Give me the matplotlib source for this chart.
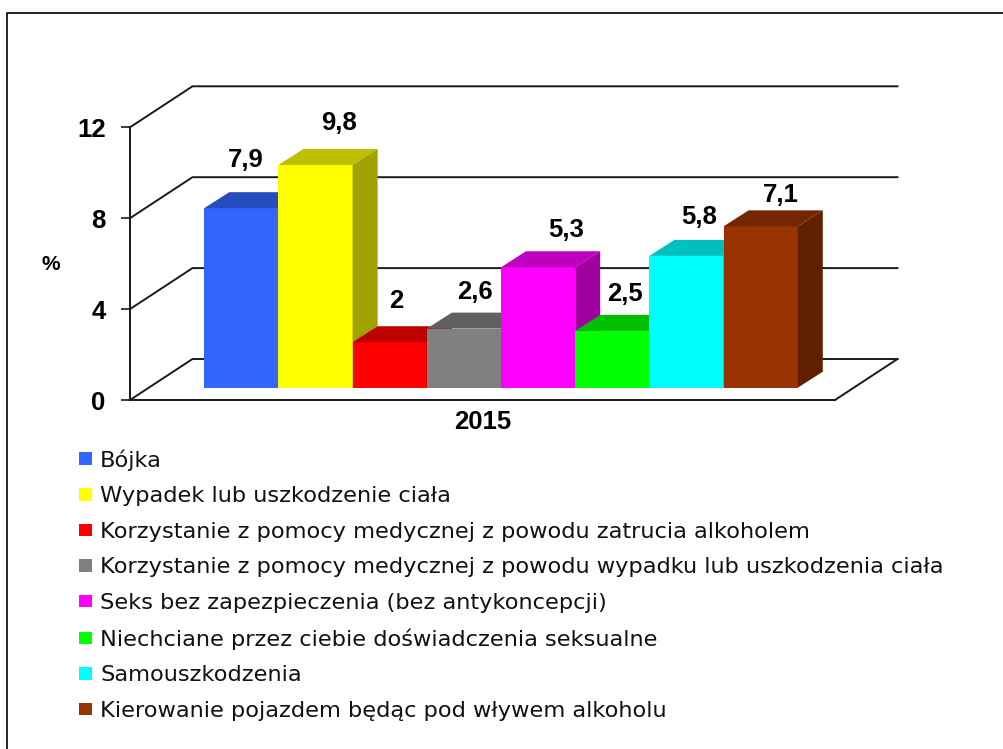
import matplotlib
matplotlib.use("Agg")
import matplotlib.pyplot as plt
from matplotlib.patches import Patch, Polygon
from matplotlib.colors import to_rgb

plt.rcParams['font.family'] = ['Liberation Sans', 'DejaVu Sans']

# ---- data ----
categories = [
    "Bójka",
    "Wypadek lub uszkodzenie ciała",
    "Korzystanie z pomocy medycznej z powodu zatrucia alkoholem",
    "Korzystanie z pomocy medycznej z powodu wypadku lub uszkodzenia ciała",
    "Seks bez zapezpieczenia (bez antykoncepcji)",
    "Niechciane przez ciebie doświadczenia seksualne",
    "Samouszkodzenia",
    "Kierowanie pojazdem będąc pod wływem alkoholu",
]
values = [7.9, 9.8, 2, 2.6, 5.3, 2.5, 5.8, 7.1]
value_labels = ["7,9", "9,8", "2", "2,6", "5,3", "2,5", "5,8", "7,1"]
colors = ["#3366FF", "#FFFF00", "#FF0000", "#808080", "#FF00FF", "#00FF00", "#00FFFF", "#993300"]
y_ticks = [0, 4, 8, 12]
group_label = "2015"

# ---- style / layout (pixels of the 1004x749 canvas) ----
W, H = 1004, 749
AX_L, AX_R, AX_T, AX_B = 130, 835, 127.3, 400
BAR_W_PX = 74.2
label_offsets = [(4, 48), (23, 42), (6.5, 41), (11.5, 37), (28, 37), (13, 37), (13, 39), (20, 31)]

fig = plt.figure(figsize=(W / 100, H / 100), dpi=100, facecolor="white")
ax = fig.add_axes([AX_L / W, 1 - AX_B / H, (AX_R - AX_L) / W, (AX_B - AX_T) / H])
ax.set_xlim(0, (AX_R - AX_L) / BAR_W_PX)
ax.set_ylim(0, 12)
ax.patch.set_visible(False)

ux = (AX_R - AX_L) / (ax.get_xlim()[1])   # px per x unit
uy = (AX_B - AX_T) / 12                   # px per y unit


def dxy(px, py):
    return px / ux, py / uy


# depth of the walls and of the bars
WALL_DX, WALL_DY = dxy(62.5, 41)
BAR_DX, BAR_DY = dxy(25, 16)
BAR_Y0 = dxy(0, 12.3)[1]
xmax = ax.get_xlim()[1]

# back wall, side wall, floor
line_kw = dict(color="#1a1a1a", lw=1.4, clip_on=False, zorder=1, solid_capstyle="projecting")
for t in y_ticks:
    ax.plot([0, WALL_DX, xmax + WALL_DX], [t, t + WALL_DY, t + WALL_DY], **line_kw)
ax.plot([xmax, xmax + WALL_DX], [0, WALL_DY], **line_kw)

# bars
for i, (v, c) in enumerate(zip(values, colors)):
    x0, x1 = i + 1, i + 2
    y0, y1 = BAR_Y0, BAR_Y0 + v
    rgb = to_rgb(c)
    top = tuple(k * 0.75 for k in rgb)
    side = tuple(k * 0.63 for k in rgb)
    ax.bar(x0, v, width=1, bottom=y0, align="edge", color=c, linewidth=0, zorder=3 + i, clip_on=False)
    ax.add_patch(Polygon([(x0, y1), (x0 + BAR_DX, y1 + BAR_DY), (x1 + BAR_DX, y1 + BAR_DY), (x1, y1)],
                         closed=True, facecolor=top, edgecolor="none", zorder=3 + i, clip_on=False))
    ax.add_patch(Polygon([(x1, y0), (x1 + BAR_DX, y0 + BAR_DY), (x1 + BAR_DX, y1 + BAR_DY), (x1, y1)],
                         closed=True, facecolor=side, edgecolor="none", zorder=3 + i, clip_on=False))
    ax.annotate(value_labels[i], xy=((x0 + x1) / 2, y1), xytext=label_offsets[i],
                textcoords="offset pixels", ha="center", va="center",
                fontsize=18.5, fontweight="bold", color="black", zorder=20, annotation_clip=False)

# axes
for s in ("top", "right"):
    ax.spines[s].set_visible(False)
for s in ("left", "bottom"):
    ax.spines[s].set_color("#1a1a1a")
    ax.spines[s].set_linewidth(1.4)
    ax.spines[s].set_zorder(2)
ax.set_yticks(y_ticks)
ax.set_yticklabels([str(t) for t in y_ticks], fontsize=18.5, fontweight="bold")
ax.tick_params(axis="y", length=6.5, width=1.2, color="#1a1a1a", pad=11)
ax.set_xticks([xmax / 2])
ax.set_xticklabels([group_label], fontsize=18.5, fontweight="bold")
ax.tick_params(axis="x", length=0, pad=7)
fig.text(51 / W, 1 - 264 / H, "%", ha="center", va="center", fontsize=15, fontweight="bold")

# legend (DejaVu Sans approximates the horizontally stretched Arial of the reference)
FS = 16.2
handles = [Patch(facecolor=c, edgecolor="none") for c in colors]
fig.legend(handles, categories, loc="upper left", bbox_to_anchor=(73 / W, 1 - 443 / H),
           frameon=False, handlelength=0.574, handleheight=0.49,
           handletextpad=0.35, labelspacing=0.69, borderpad=0.28, borderaxespad=0,
           labelcolor="#111111", prop=dict(family="DejaVu Sans", size=FS))

# outer frame
fig.add_artist(plt.Line2D([7.5 / W, 7.5 / W, 1], [0, 1 - 12.5 / H, 1 - 12.5 / H],
                          transform=fig.transFigure, color="black", lw=1.2))

fig.savefig("out.png", dpi=100, facecolor="white")
